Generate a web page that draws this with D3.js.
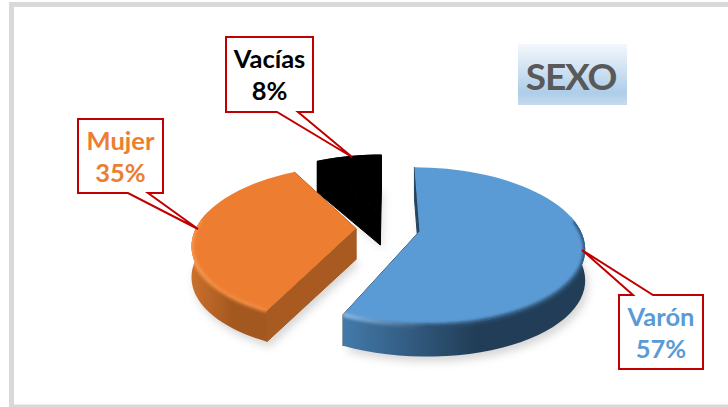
<!DOCTYPE html>
<html>
<head>
<meta charset="utf-8">
<script src="https://cdn.jsdelivr.net/npm/d3@7/dist/d3.min.js"></script>
<style>
  html, body { margin: 0; padding: 0; background: #fff; }
  svg { display: block; }
  text { font-family: Lato, "Open Sans", sans-serif; font-weight: 700; text-anchor: middle; }
</style>
</head>
<body>
<div id="wrap"></div>
<script>
const categories = ["Varón", "Mujer", "Vacías"];
const values = [57, 35, 8];
const percentLabels = ["57%", "35%", "8%"];
const titleText = "SEXO";

const width = 728;
const height = 407;

// fake 3d pie: disc coords go through a small perspective divide
const cx = 388, cy = 228;
const radiusX = 160, radiusY = 75;
const persp = 0.19;
const depth = 31;
const explode = 0.2;

const topColors = ["#5b9bd5", "#ed7d31", "#000"];
const textColors = ["#5b9bd5", "#ed7d31", "#000"];
const sideFrom = ["#437aaa", "#cb702c", "#000"];
const sideTo = ["#213d57", "#a3581f", "#000"];
const wallColors = ["#26445f", "#a85a20", "#000"];
const bevelFrom = ["#8fc0ea", "#f59a55", "#000"];
const bevelTo = ["#2c4f70", "#f08a40", "#000"];

// callout boxes, same order as categories
const boxes = [
  { x: 619, y: 295, w: 84, h: 74, base: [[633, 295], [653, 295]], tip: [582, 250] },
  { x: 78, y: 119, w: 85, h: 74, base: [[128, 193], [148, 193]], tip: [198, 229] },
  { x: 226, y: 37, w: 87, h: 75, base: [[277, 112], [298, 112]], tip: [352, 157] }
];

const svg = d3.select("#wrap").append("svg")
  .attr("width", width)
  .attr("height", height);

const defs = svg.append("defs");
defs.append("filter").attr("id", "soft")
  .attr("x", "-20%").attr("y", "-20%").attr("width", "140%").attr("height", "140%")
  .append("feGaussianBlur").attr("stdDeviation", 4);
defs.append("filter").attr("id", "bevel")
  .attr("x", "-20%").attr("y", "-20%").attr("width", "140%").attr("height", "140%")
  .append("feGaussianBlur").attr("stdDeviation", 1.5);

const titleGrad = defs.append("linearGradient").attr("id", "titleGrad")
  .attr("x1", 0).attr("y1", 0).attr("x2", 0).attr("y2", 1);
titleGrad.append("stop").attr("offset", "0%").attr("stop-color", "#f4f8fc");
titleGrad.append("stop").attr("offset", "80%").attr("stop-color", "#aecde9");
titleGrad.append("stop").attr("offset", "100%").attr("stop-color", "#c6dbef");

categories.forEach((c, i) => {
  const g = defs.append("linearGradient").attr("id", "side" + i)
    .attr("x1", 0).attr("y1", 0).attr("x2", 1).attr("y2", 0);
  g.append("stop").attr("offset", "0%").attr("stop-color", sideFrom[i]);
  g.append("stop").attr("offset", "55%").attr("stop-color", sideTo[i]);
  g.append("stop").attr("offset", "100%").attr("stop-color", sideTo[i]);

  const b = defs.append("linearGradient").attr("id", "bevelGrad" + i)
    .attr("x1", 0).attr("y1", 0).attr("x2", 1).attr("y2", 0);
  b.append("stop").attr("offset", "0%").attr("stop-color", bevelFrom[i]);
  b.append("stop").attr("offset", "35%").attr("stop-color", bevelTo[i]);
  b.append("stop").attr("offset", "100%").attr("stop-color", bevelTo[i]);
});

// frame, the right side runs off the page
svg.append("rect")
  .attr("x", 11.5).attr("y", 4.5)
  .attr("width", 730).attr("height", 402.5)
  .attr("fill", "#fff")
  .attr("stroke", "#d9d9d9")
  .attr("stroke-width", 5);

const pie = d3.pie().sort(null).value(d => d);
const arcs = pie(values);

// u: right, v: towards the viewer, lift: px below top plane
function project(u, v, lift) {
  const s = 1 / (1 - persp * v);
  return [cx + radiusX * u * s, cy + radiusY * v * s + (lift || 0)];
}

function arcPoints(a, lift) {
  const mid = (a.startAngle + a.endAngle) / 2;
  const ou = explode * Math.sin(mid), ov = -explode * Math.cos(mid);
  const ts = d3.range(0, 61).map(k => a.startAngle + (a.endAngle - a.startAngle) * k / 60);
  return {
    centre: project(ou, ov, lift),
    rim: ts.map(t => project(ou + Math.sin(t), ov - Math.cos(t), lift)),
    angles: ts
  };
}

const line = d3.line();
const layer = svg.append("g");

// draw back to front
[2, 1, 0].forEach(i => {
  const a = arcs[i];
  const top = arcPoints(a, 0);
  const bottom = arcPoints(a, depth);
  const topPath = [top.centre, ...top.rim];
  const g = layer.append("g").attr("class", "slice " + categories[i]);

  // shadow under the slice
  g.append("path")
    .attr("d", line([...bottom.rim, bottom.centre]) + "Z")
    .attr("transform", "translate(3,5)")
    .attr("fill", i === 2 ? "#000" : "#777")
    .attr("opacity", i === 2 ? 0.1 : 0.3)
    .attr("filter", "url(#soft)");

  // radial walls
  [[top.centre, top.rim[0], bottom.rim[0], bottom.centre],
   [top.centre, top.rim[60], bottom.rim[60], bottom.centre]].forEach(q => {
    g.append("path")
      .attr("d", line(q) + "Z")
      .attr("fill", wallColors[i])
      .attr("stroke", wallColors[i])
      .attr("stroke-width", 1);
  });

  // outer side, only the part facing the viewer
  const front = top.rim.map((p, k) => k).filter(k => Math.cos(top.angles[k]) < 0.2 || i === 2);
  const sidePath = line([...front.map(k => top.rim[k]), ...front.slice().reverse().map(k => bottom.rim[k])]) + "Z";
  g.append("path")
    .attr("d", sidePath)
    .attr("fill", `url(#side${i})`)
    .attr("stroke", i === 2 ? "#000" : "none");

  // top face
  const clipId = "clip" + i;
  const clip = defs.append("clipPath").attr("id", clipId);
  clip.append("path").attr("d", line(topPath) + "Z");
  clip.append("path").attr("d", sidePath);
  g.append("path")
    .attr("d", line(topPath) + "Z")
    .attr("fill", topColors[i])
    .attr("stroke", i === 2 ? "#000" : "none");

  // bevel on the front rim, soft across top face and side
  if (i !== 2) {
    const rimPts = top.angles.map((t, k) => [t, top.rim[k]])
      .filter(d => Math.cos(d[0]) < 0.15)
      .map(d => d[1]);
    g.append("g").attr("clip-path", `url(#${clipId})`)
      .append("path")
      .attr("d", line(rimPts))
      .attr("fill", "none")
      .attr("stroke", `url(#bevelGrad${i})`)
      .attr("stroke-width", 4)
      .attr("filter", "url(#bevel)");
  }
});

// callouts
const callouts = svg.append("g");
categories.forEach((c, i) => {
  const b = boxes[i];
  const outline = [[b.x, b.y], [b.x + b.w, b.y], [b.x + b.w, b.y + b.h], [b.x, b.y + b.h]];
  // pointer leaves from the top or bottom side of the box
  const onTop = b.base[0][1] === b.y;
  const pts = onTop
    ? [outline[0], b.base[0], b.tip, b.base[1], outline[1], outline[2], outline[3]]
    : [outline[0], outline[1], outline[2], b.base[1], b.tip, b.base[0], outline[3]];
  callouts.append("path")
    .attr("d", line(pts) + "Z")
    .attr("fill", "#fff")
    .attr("stroke", "#c00000")
    .attr("stroke-width", 2)
    .attr("stroke-linejoin", "miter");
  const tx = b.x + b.w / 2;
  callouts.append("text").attr("x", tx).attr("y", b.y + 31)
    .attr("font-size", 25.5).attr("fill", textColors[i]).text(c);
  callouts.append("text").attr("x", tx).attr("y", b.y + 63)
    .attr("font-size", 25.5).attr("fill", textColors[i]).text(percentLabels[i]);
});

// title
svg.append("rect")
  .attr("x", 518).attr("y", 44)
  .attr("width", 109).attr("height", 61)
  .attr("fill", "url(#titleGrad)");
svg.append("text")
  .attr("x", 571).attr("y", 90)
  .attr("font-size", 37)
  .attr("letter-spacing", -1.25)
  .attr("fill", "#595959")
  .text(titleText);
</script>
</body>
</html>
